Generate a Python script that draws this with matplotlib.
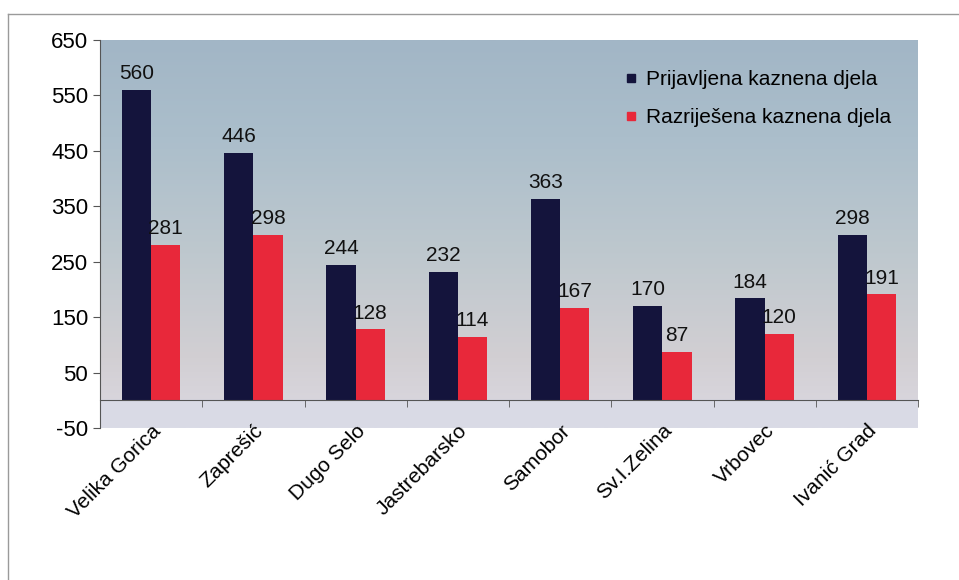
import numpy as np
import matplotlib
matplotlib.use("Agg")
import matplotlib.pyplot as plt
from matplotlib.lines import Line2D
from matplotlib.colors import LinearSegmentedColormap

plt.rcParams["font.family"] = ["Liberation Sans", "DejaVu Sans"]
plt.rcParams["axes.unicode_minus"] = False

cities = ["Velika Gorica", "Zaprešić", "Dugo Selo", "Jastrebarsko",
          "Samobor", "Sv.I.Zelina", "Vrbovec", "Ivanić Grad"]
prijavljena = [560, 446, 244, 232, 363, 170, 184, 298]
razrijesena = [281, 298, 128, 114, 167, 87, 120, 191]
series_names = ["Prijavljena kaznena djela", "Razriješena kaznena djela"]

NAVY = "#14143c"
RED = "#e8283a"

fig = plt.figure(figsize=(9.59, 5.8), dpi=100)
ax = fig.add_axes([100 / 959, 1 - 428 / 580, 818 / 959, 388 / 580])

# outer frame of the scanned slide
fig.add_artist(Line2D([8 / 959, 1], [1 - 14 / 580, 1 - 14 / 580],
                      transform=fig.transFigure, color="#9a9a9a", lw=1))
fig.add_artist(Line2D([8 / 959, 8 / 959], [0, 1 - 14 / 580],
                      transform=fig.transFigure, color="#9a9a9a", lw=1))

# gradient background
grad_cmap = LinearSegmentedColormap.from_list(
    "bg",
    [(0.0, "#dadbe6"), (0.07, "#d9dae5"), (0.072, "#d8d5dc"),
     (0.18, "#d2cfd3"), (0.45, "#bec8ce"), (0.75, "#abbecb"), (1.0, "#a2b6c6")])
grad = np.linspace(0, 1, 256).reshape(-1, 1)
ax.imshow(grad, cmap=grad_cmap, origin="lower", aspect="auto",
          extent=(-0.5, len(cities) - 0.5, -50, 650), zorder=0)

x = np.arange(len(cities))
w = 0.285
b1 = ax.bar(x - w / 2, prijavljena, w, color=NAVY, zorder=2, label=series_names[0])
b2 = ax.bar(x + w / 2, razrijesena, w, color=RED, zorder=2, label=series_names[1])

for bars, vals in [(b1, prijavljena), (b2, razrijesena)]:
    for rect, v in zip(bars, vals):
        ax.text(rect.get_x() + rect.get_width() / 2, v + 12, str(v),
                ha="center", va="bottom", fontsize=15, color="#111111", zorder=3)

ax.set_xlim(-0.5, len(cities) - 0.5)
ax.set_ylim(-50, 650)
ax.set_yticks(np.arange(-50, 651, 100))

ax.spines["top"].set_visible(False)
ax.spines["right"].set_visible(False)
ax.spines["bottom"].set_position(("data", 0))
ax.spines["bottom"].set_color("#555555")
ax.spines["left"].set_color("#555555")

ax.set_xticks(x)
ax.set_xticklabels(cities, rotation=45, ha="right", rotation_mode="anchor",
                   fontsize=15)
ax.set_xticks(np.arange(-0.5, len(cities)), minor=True)
ax.tick_params(axis="x", which="major", length=0, pad=15)
ax.tick_params(axis="x", which="minor", length=5, color="#555555")
ax.tick_params(axis="y", length=5, color="#555555", labelsize=16)

handles = [Line2D([], [], marker="s", ls="", color=NAVY, markersize=6),
           Line2D([], [], marker="s", ls="", color=RED, markersize=6)]
ax.legend(handles, series_names, loc="upper right", bbox_to_anchor=(0.99, 0.97),
          frameon=False, fontsize=15, handlelength=0.6, handletextpad=0.4,
          labelspacing=0.9)

fig.savefig("out.png", dpi=100)
